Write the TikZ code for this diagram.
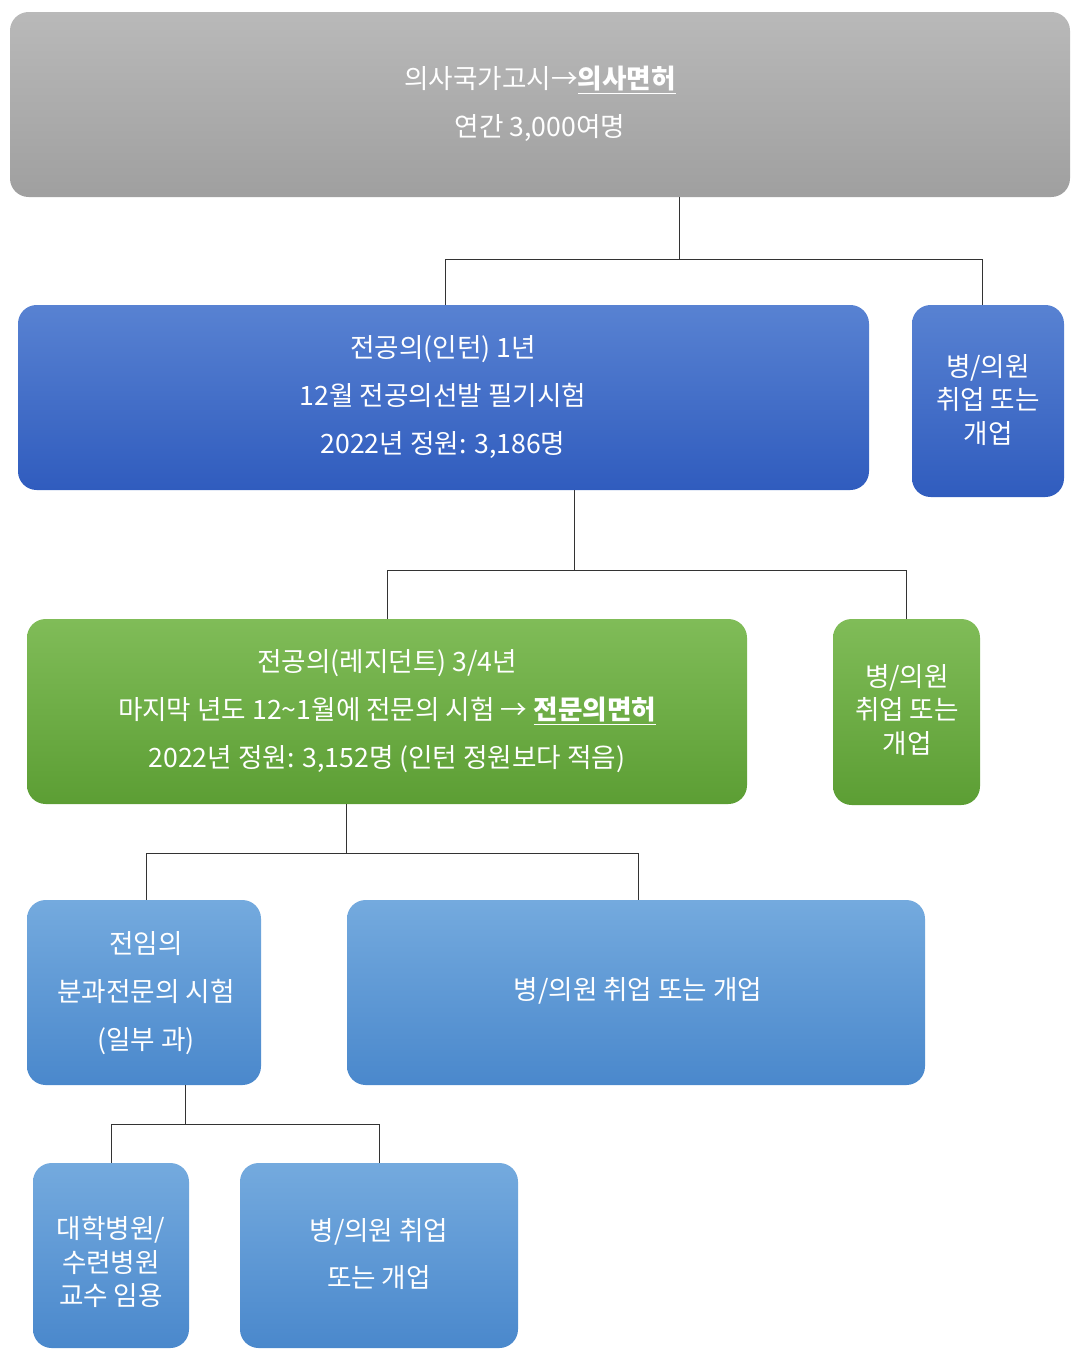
\documentclass[tikz,border=0pt]{standalone}
\usepackage{fontspec}
\setmainfont{Noto Sans CJK KR}
\begin{document}
\begin{tikzpicture}[x=0.0264cm,y=-0.0264cm]
\useasboundingbox (0,0) rectangle (1086,1355);
\tikzset{
 box/.style={rounded corners=14pt,draw=none,text=white,align=center,font=\fontsize{20}{36}\selectfont},
 sbox/.style={box,font=\fontsize{20}{25}\selectfont},
 grayb/.style={top color=gray!55,bottom color=gray!75},
 blueb/.style={top color={rgb,255:red,88;green,130;blue,210},bottom color={rgb,255:red,48;green,92;blue,190}},
 greenb/.style={top color={rgb,255:red,128;green,188;blue,88},bottom color={rgb,255:red,92;green,158;blue,52}},
 lblueb/.style={top color={rgb,255:red,116;green,170;blue,222},bottom color={rgb,255:red,74;green,136;blue,204}},
 conn/.style={draw=black!80,line width=0.6pt}
}
\newcommand{\bx}[6]{\path[#2] (#3,#4) rectangle (#5,#6);}
\bx{}{box,grayb} {10}{12}{1070}{197}
\node[box] (top) at (540,104) {의사국가고시→\underline{\textbf{의사면허}}\\연간 3,000여명};
\bx{}{box,blueb}{18}{305}{869}{490}
\node[box] (b1) at (443,397) {전공의(인턴) 1년\\12월 전공의선발 필기시험\\2022년 정원: 3,186명};
\bx{}{box,blueb}{912}{305}{1064}{497}
\node[sbox] (b2) at (988,400) {병/의원\\취업 또는\\개업};
\bx{}{box,greenb}{27}{619}{747}{804}
\node[box] (g1) at (387,711) {전공의(레지던트) 3/4년\\마지막 년도 12\textasciitilde1월에 전문의 시험 → \underline{\textbf{전문의면허}}\\2022년 정원: 3,152명 (인턴 정원보다 적음)};
\bx{}{box,greenb}{833}{619}{980}{805}
\node[sbox] (g2) at (907,710) {병/의원\\취업 또는\\개업};
\bx{}{box,lblueb}{27}{900}{261}{1085}
\node[box] (l1) at (146,993) {전임의\\분과전문의 시험\\(일부 과)};
\bx{}{box,lblueb}{347}{900}{925}{1085}
\node[box] (l2) at (638,991) {병/의원 취업 또는 개업};
\bx{}{box,lblueb}{33}{1163}{189}{1348}
\node[sbox] (d1) at (111,1262) {대학병원/\\수련병원\\교수 임용};
\bx{}{box,lblueb}{240}{1163}{518}{1348}
\node[box] (d2) at (379,1254) {병/의원 취업\\또는 개업};
\coordinate (c1) at (679,197); \coordinate (c1a) at (445,305); \coordinate (c1b) at (982,305);
\draw[conn] (c1) -- (679,259) -| (c1a); \draw[conn] (679,259) -| (c1b);
\coordinate (c2) at (574,490); \coordinate (c2a) at (387,619); \coordinate (c2b) at (906,619);
\draw[conn] (c2) -- (574,570) -| (c2a); \draw[conn] (574,570) -| (c2b);
\coordinate (c3) at (346,804); \coordinate (c3a) at (146,900); \coordinate (c3b) at (638,900);
\draw[conn] (c3) -- (346,853) -| (c3a); \draw[conn] (346,853) -| (c3b);
\coordinate (c4) at (185,1085); \coordinate (c4a) at (111,1163); \coordinate (c4b) at (379,1163);
\draw[conn] (c4) -- (185,1124) -| (c4a); \draw[conn] (185,1124) -| (c4b);
\end{tikzpicture}
\end{document}
